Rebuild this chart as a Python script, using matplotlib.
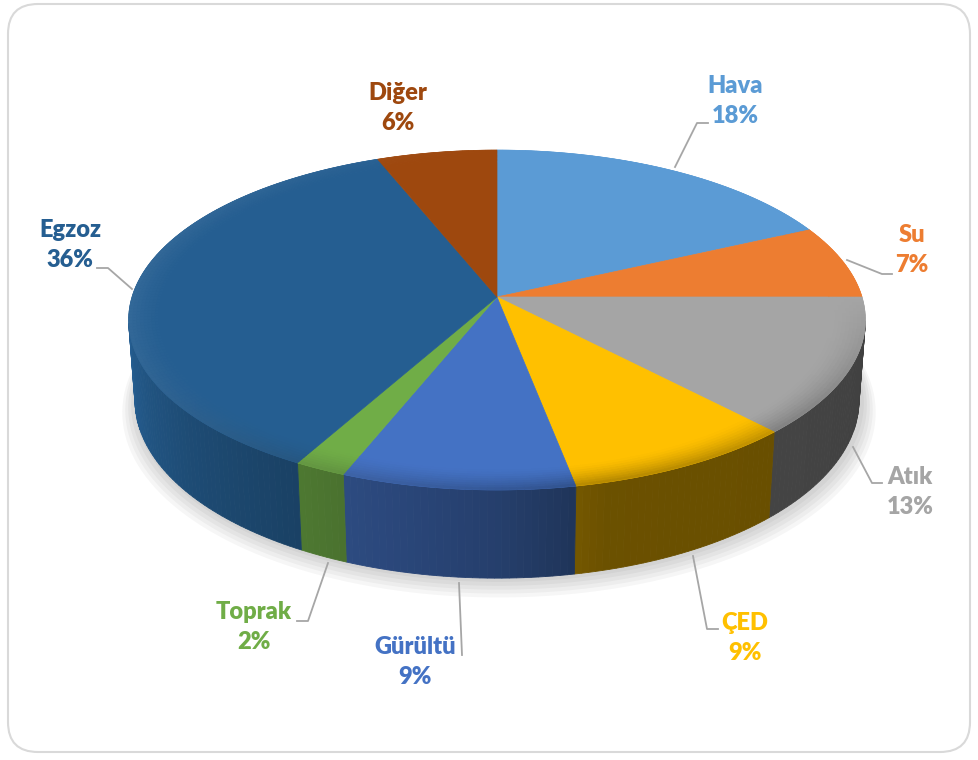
import numpy as np
import matplotlib
matplotlib.use("Agg")
import matplotlib.pyplot as plt
from matplotlib.patches import Polygon, FancyBboxPatch
from matplotlib.colors import to_rgb

# data
labels = ["Hava", "Su", "Atık", "ÇED", "Gürültü", "Toprak", "Egzoz", "Diğer"]
values = [18, 7, 13, 9, 9, 2, 36, 6]
colors = ["#5B9BD5", "#ED7D31", "#A5A5A5", "#FFC000",
          "#4472C4", "#70AD47", "#255E91", "#9E480E"]
label_pos = [(735, 101), (912, 250), (910, 492), (745, 638),
             (415, 662), (254, 627), (70, 245), (398, 108)]
leaders = [
    [(675, 167), (697, 123), (708, 123)],
    [(847, 260), (882, 274), (892, 274)],
    [(853, 447), (872, 483), (882, 483)],
    [(693, 556), (707, 629), (718, 629)],
    [(459, 583), (462, 655)],
    [(328, 563), (308, 621), (297, 621)],
    [(97, 268), (108, 268), (132, 289)],
    None,
]

# pie projection (pixel space of the picture)
cx, cy = 497, 297
F, D = 2398.0, 6.57
elev = np.arcsin(0.457)
se, ce = np.sin(elev), np.cos(elev)
h = 0.25


def proj(t, r, z):
    X = r * np.sin(t)
    Y = r * np.cos(t)
    d = D + Y * ce - z * se
    yc = z * ce + Y * se
    return cx + F * X / d, cy - F * yc / d


def shade(c, k):
    r, g, b = to_rgb(c)
    return (min(r * k, 1), min(g * k, 1), min(b * k, 1))


def mix(c1, c2, s):
    a = np.array(to_rgb(c1))
    b = np.array(to_rgb(c2))
    return tuple(a * (1 - s) + b * s)


# wall brightness vs angle (lit from the left)
k_deg = [90, 130, 165, 180, 200, 230, 265, 275]
k_val = [0.38, 0.41, 0.42, 0.55, 0.65, 0.80, 1.02, 1.02]


def wall_k(t):
    return np.interp(np.degrees(t), k_deg, k_val)


fig = plt.figure(figsize=(9.79, 7.60), dpi=100)
ax = fig.add_axes([0, 0, 1, 1])
ax.set_xlim(0, 979)
ax.set_ylim(760, 0)
ax.axis("off")

# rounded frame
ax.add_patch(FancyBboxPatch((8, 4), 962, 748, boxstyle="round,pad=0,rounding_size=30",
                            fc="white", ec="#D9D9D9", lw=1.5))

total = float(sum(values))
bounds = np.concatenate([[0], np.cumsum(values)]) / total * 2 * np.pi

# soft shadow under the pie
tt = np.linspace(0, 2 * np.pi, 200)
for i in range(5):
    grow = 1.0 + 0.008 * (i + 1)
    xs, ys = proj(tt, grow, -h)
    ax.add_patch(Polygon(np.c_[xs + 2, ys + 2 + 2 * i], closed=True, fc="#000000",
                         ec="none", alpha=0.035, zorder=1))


def steps(i):
    return max(int(np.degrees(bounds[i + 1] - bounds[i])), 2) + 1


# outer walls (only front-facing part)
for i, col in enumerate(colors):
    t = np.linspace(bounds[i], bounds[i + 1], steps(i))
    for a0, a1 in zip(t[:-1], t[1:]):
        tm = 0.5 * (a0 + a1)
        if np.cos(tm) > -0.15:
            continue
        x0, y0 = proj(a0, 1, 0)
        x1, y1 = proj(a1, 1, 0)
        x2, y2 = proj(a1, 1, -h)
        x3, y3 = proj(a0, 1, -h)
        c = shade(col, wall_k(tm))
        ax.add_patch(Polygon([(x0, y0), (x1, y1), (x2, y2), (x3, y3)], closed=True,
                             fc=c, ec=c, lw=0.6, zorder=2))

# top faces
for i, col in enumerate(colors):
    t = np.linspace(bounds[i], bounds[i + 1], 120)
    xs, ys = proj(t, 1, 0)
    pts = [(cx, cy)] + list(zip(xs, ys))
    ax.add_patch(Polygon(pts, closed=True, fc=col, ec=col, lw=0.5, zorder=3))
    # soft bevel near the rim
    rs = np.linspace(0.91, 1.0, 10)
    tb = np.linspace(bounds[i], bounds[i + 1], steps(i))
    for j, (r0, r1) in enumerate(zip(rs[:-1], rs[1:])):
        s = ((j + 1) / (len(rs) - 1)) ** 1.5
        for a0, a1 in zip(tb[:-1], tb[1:]):
            tm = 0.5 * (a0 + a1)
            front = max(0.0, -np.cos(tm))
            light = max(0.0, -np.sin(tm))
            c = mix(col, shade(col, wall_k(tm)), 0.5 * s * front)
            c = mix(c, "white", 0.06 * light * s)
            p0 = proj(a0, r0, 0)
            p1 = proj(a1, r0, 0)
            p2 = proj(a1, r1, 0)
            p3 = proj(a0, r1, 0)
            ax.add_patch(Polygon([p0, p1, p2, p3], closed=True, fc=c, ec=c,
                                 lw=0.4, zorder=4))

# labels and leader lines
for lab, v, col, (lx, ly), ld in zip(labels, values, colors, label_pos, leaders):
    pct = f"{int(round(v / total * 100))}%"
    ax.text(lx, ly, f"{lab}\n{pct}", color=col, ha="center", va="center",
            fontsize=17, fontweight="heavy", family=["Lato", "DejaVu Sans"],
            linespacing=1.45, zorder=6)
    if ld is not None:
        lx_, ly_ = zip(*ld)
        ax.plot(lx_, ly_, color="#A6A6A6", lw=1.3, zorder=5)

fig.savefig("out.png", dpi=100)
